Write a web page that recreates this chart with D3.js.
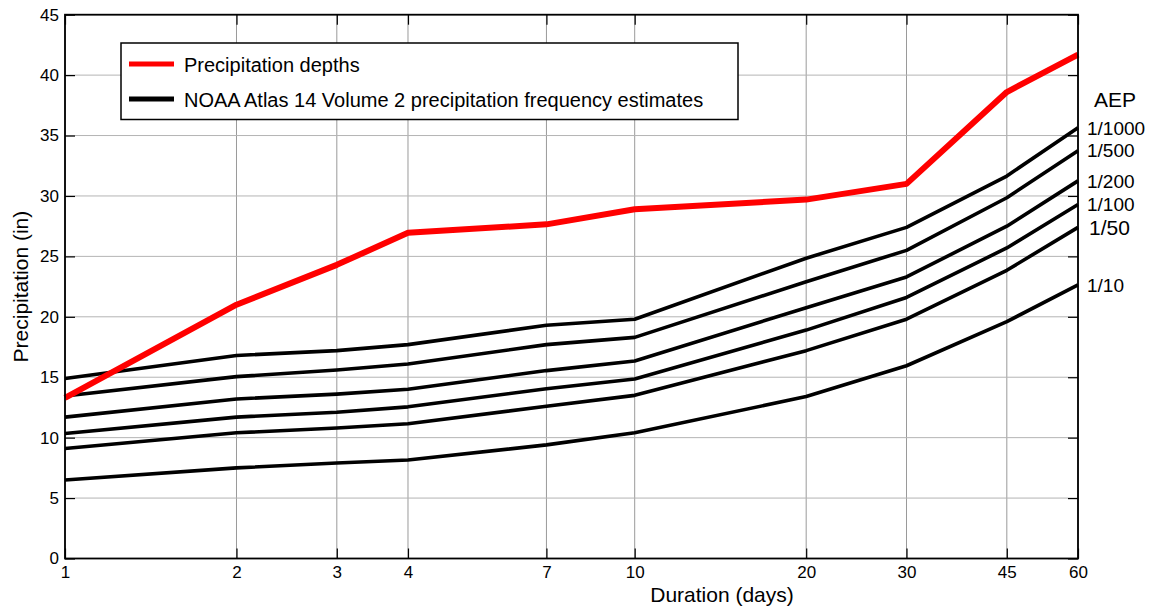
<!DOCTYPE html>
<html>
<head>
<meta charset="utf-8">
<script src="https://cdn.jsdelivr.net/npm/d3@7"></script>
<style>
  body { margin: 0; background: #fff; }
  svg text { font-family: "Liberation Sans", Arial, sans-serif; fill: #000; }
</style>
</head>
<body>
<div id="chart"></div>
<script>
// --- DATA ---
const durations = [1, 2, 3, 4, 7, 10, 20, 30, 45, 60];
const depths = [13.3, 21.0, 24.3, 26.95, 27.65, 28.9, 29.7, 31.0, 38.6, 41.7];

const aepLabels = ["1/1000", "1/500", "1/200", "1/100", "1/50", "1/10"];
const aep1000 = [14.9, 16.8, 17.2, 17.7, 19.3, 19.8, 24.85, 27.4, 31.65, 35.65];
const aep500  = [13.45, 15.05, 15.6, 16.1, 17.7, 18.3, 22.9, 25.5, 29.85, 33.75];
const aep200  = [11.7, 13.2, 13.6, 14.0, 15.55, 16.35, 20.75, 23.3, 27.5, 31.25];
const aep100  = [10.35, 11.7, 12.1, 12.55, 14.05, 14.85, 18.9, 21.6, 25.7, 29.3];
const aep50   = [9.1, 10.4, 10.8, 11.15, 12.6, 13.5, 17.2, 19.8, 23.85, 27.4];
const aep10   = [6.5, 7.5, 7.9, 8.15, 9.4, 10.4, 13.4, 15.95, 19.6, 22.65];
const aepSeries = [aep1000, aep500, aep200, aep100, aep50, aep10];

const xTicks = [1, 2, 3, 4, 7, 10, 20, 30, 45, 60];
const yTicks = [0, 5, 10, 15, 20, 25, 30, 35, 40, 45];

const legendItems = [
    { label: "Precipitation depths", color: "#ff0000" },
    { label: "NOAA Atlas 14 Volume 2 precipitation frequency estimates", color: "#000" }
];

// --- LAYOUT ---
const W = 1151, H = 607;
const mLeft = 65, mRight = 1078, mTop = 14.7, mBottom = 558.5;

const svg = d3.select("#chart").append("svg")
    .attr("width", W).attr("height", H);

const x = d3.scaleLog().domain([1, 60]).range([mLeft, mRight]);
const y = d3.scaleLinear().domain([0, 45]).range([mBottom, mTop]);

// grille
const grid = svg.append("g").attr("stroke", "#9a9a9a").attr("stroke-width", 1);
grid.selectAll(".gx").data(xTicks).join("line")
    .attr("x1", d => x(d)).attr("x2", d => x(d)).attr("y1", mTop).attr("y2", mBottom);
grid.selectAll(".gy").data(yTicks).join("line")
    .attr("x1", mLeft).attr("x2", mRight).attr("y1", d => y(d)).attr("y2", d => y(d))
    .attr("stroke", "#b4b4b4");

// axes (ticks inside, on all four sides)
const fmt = d => String(d);
const axB = svg.append("g").attr("transform", `translate(0,${mBottom})`)
    .call(d3.axisBottom(x).tickValues(xTicks).tickFormat(fmt).tickSizeInner(-10).tickSizeOuter(0).tickPadding(7));
const axL = svg.append("g").attr("transform", `translate(${mLeft},0)`)
    .call(d3.axisLeft(y).tickValues(yTicks).tickFormat(fmt).tickSizeInner(-10).tickSizeOuter(0).tickPadding(6));
const axT = svg.append("g").attr("transform", `translate(0,${mTop})`)
    .call(d3.axisTop(x).tickValues(xTicks).tickFormat("").tickSizeInner(-10).tickSizeOuter(0));
const axR = svg.append("g").attr("transform", `translate(${mRight},0)`)
    .call(d3.axisRight(y).tickValues(yTicks).tickFormat("").tickSizeInner(-10).tickSizeOuter(0));

[axB, axL, axT, axR].forEach(a => {
    a.select(".domain").remove();
    a.selectAll(".tick line").attr("stroke", "#000").attr("stroke-width", 1.2);
    a.selectAll("text").attr("font-size", 17).attr("font-family", null).attr("fill", "#000");
});

// lignes
const line = d3.line().x((d, i) => x(durations[i])).y(d => y(d));

svg.append("g").selectAll("path").data(aepSeries).join("path")
    .attr("d", d => line(d))
    .attr("fill", "none").attr("stroke", "#000").attr("stroke-width", 3.6)
    .attr("stroke-linejoin", "round");

svg.append("path").attr("d", line(depths))
    .attr("fill", "none").attr("stroke", "#ff0000").attr("stroke-width", 6)
    .attr("stroke-linejoin", "round");

// cadre
svg.append("rect").attr("x", mLeft).attr("y", mTop)
    .attr("width", mRight - mLeft).attr("height", mBottom - mTop)
    .attr("fill", "none").attr("stroke", "#000").attr("stroke-width", 1.8);

// légende
const lg = svg.append("g");
lg.append("rect").attr("x", 121).attr("y", 43).attr("width", 617).attr("height", 76.5)
    .attr("fill", "#fff").attr("stroke", "#000").attr("stroke-width", 1.5);
legendItems.forEach((it, i) => {
    const cy = 64 + i * 35;
    lg.append("line").attr("x1", 129).attr("x2", 174).attr("y1", cy).attr("y2", cy)
        .attr("stroke", it.color).attr("stroke-width", 5);
    lg.append("text").attr("x", 184).attr("y", cy + 8).attr("font-size", 20).text(it.label);
});

// étiquettes AEP
svg.append("text").attr("x", 1094).attr("y", 107).attr("font-size", 21).text("AEP");
svg.append("g").selectAll("text").data(aepSeries).join("text")
    .attr("x", (d, i) => aepLabels[i] === "1/50" ? 1089 : 1087)
    .attr("y", d => y(d[d.length - 1]))
    .attr("dy", "0.36em")
    .attr("font-size", (d, i) => aepLabels[i] === "1/50" ? 21 : 19)
    .text((d, i) => aepLabels[i]);

// titres d'axes
svg.append("text").attr("x", 722).attr("y", 601.5).attr("text-anchor", "middle")
    .attr("font-size", 21).text("Duration (days)");
svg.append("text").attr("transform", `translate(28,${(mTop + mBottom) / 2}) rotate(-90)`)
    .attr("text-anchor", "middle").attr("font-size", 21).text("Precipitation (in)");
</script>
</body>
</html>
